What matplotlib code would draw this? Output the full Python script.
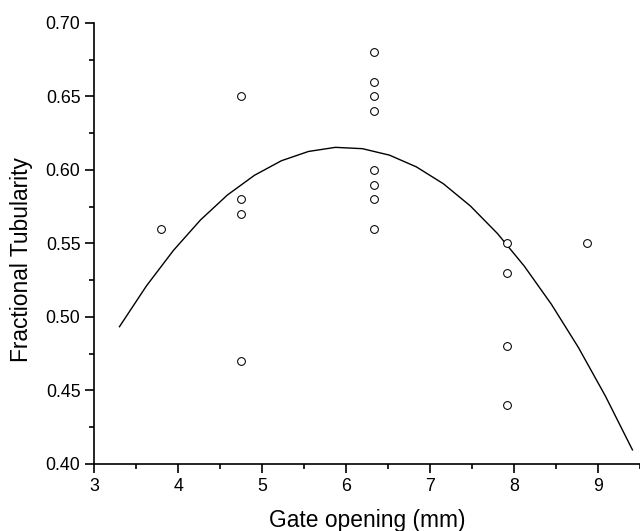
import matplotlib
matplotlib.use("Agg")
import matplotlib.pyplot as plt
from matplotlib.ticker import MultipleLocator

plt.rcParams['font.family'] = ['Liberation Sans', 'DejaVu Sans']

# Measured data (gate opening in mm, fractional tubularity)
gate_x = [3.80,
          4.75, 4.75, 4.75, 4.75,
          6.33, 6.33, 6.33, 6.33, 6.33, 6.33, 6.33, 6.33,
          7.92, 7.92, 7.92, 7.92,
          8.87]
tubularity = [0.56,
              0.65, 0.58, 0.57, 0.47,
              0.68, 0.66, 0.65, 0.64, 0.60, 0.59, 0.58, 0.56,
              0.55, 0.53, 0.48, 0.44,
              0.55]

# Fitted curve vertices
fit_x = [3.300, 3.622, 3.943, 4.265, 4.586, 4.908, 5.229, 5.551, 5.872, 6.194,
         6.516, 6.837, 7.159, 7.480, 7.802, 8.123, 8.445, 8.766, 9.088, 9.410]
fit_y = [0.4934, 0.5212, 0.5453, 0.5660, 0.5830, 0.5964, 0.6063, 0.6126, 0.6154, 0.6145,
         0.6101, 0.6021, 0.5906, 0.5755, 0.5568, 0.5345, 0.5086, 0.4793, 0.4462, 0.4096]

fig = plt.figure(figsize=(6.4, 5.31), dpi=100)
ax = fig.add_axes([0.1473, 0.1262, 0.8527, 0.8305])

ax.plot(fit_x, fit_y, color='black', lw=1.0)
ax.plot(gate_x, tubularity, linestyle='none', marker='o', markersize=5.6,
        markerfacecolor='white', markeredgecolor='black', markeredgewidth=0.75)

ax.set_xlim(3, 9.5)
ax.set_ylim(0.40, 0.70)
ax.xaxis.set_major_locator(MultipleLocator(1))
ax.xaxis.set_minor_locator(MultipleLocator(0.5))
ax.yaxis.set_major_locator(MultipleLocator(0.05))
ax.yaxis.set_minor_locator(MultipleLocator(0.025))
ax.yaxis.set_major_formatter(plt.FuncFormatter(lambda v, p: f"{v:.2f}"))

for s in ['top', 'right']:
    ax.spines[s].set_visible(False)
for s in ['left', 'bottom']:
    ax.spines[s].set_linewidth(1.2)

ax.tick_params(which='major', direction='out', length=6.5, width=1.2,
               labelsize=12.8, pad=3.5)
ax.tick_params(which='minor', direction='out', length=3.6, width=1.2)

ax.set_xlabel('Gate opening (mm)', fontsize=16.4)
ax.set_ylabel('Fractional Tubularity', fontsize=16.4)
ax.xaxis.set_label_coords(0.5, -0.129)
ax.xaxis.label.set_va('center')
ax.yaxis.set_label_coords(-0.1325, 0.4626)
ax.yaxis.label.set_va('center')

fig.savefig('out.png', dpi=100)
